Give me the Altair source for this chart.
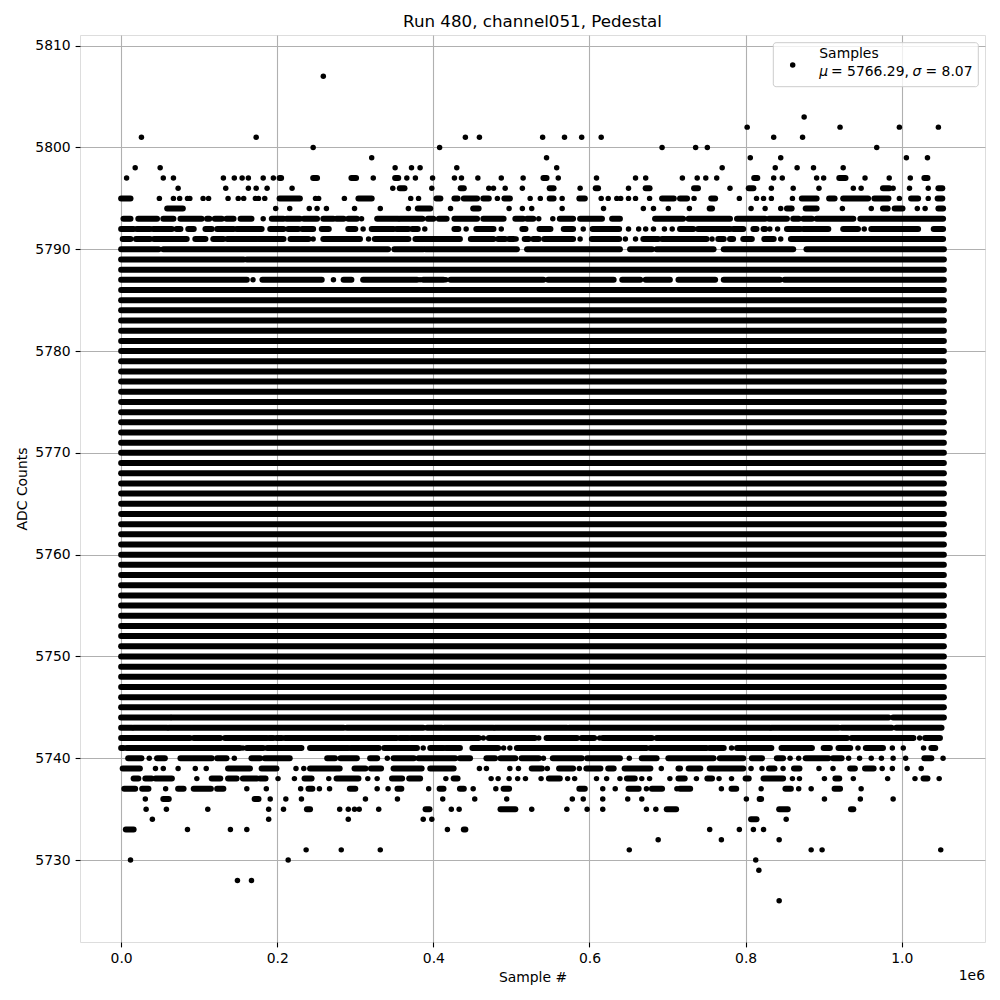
import altair as alt
import pandas as pd

# ---- data (sample index in units of 1e6, ADC count levels) ----
X_MAX = 1.054
solid_levels = list(range(5745, 5787)) + [5788]

r5807 = [0.259]
r5803 = [0.875]
r5802 = [0.802, 0.921, 0.997, 1.047]
r5801 = [0.026, 0.173, 0.441, 0.459, 0.540, 0.568, 0.590, 0.615, 0.836, 0.873]
r5800 = [0.246, 0.408, 0.693, 0.736, 0.751, 0.968]
r5799 = [0.321, 0.545, 0.806, 0.845, 1.006, 1.033]
r5798 = [0.018, 0.050, 0.351, 0.372, 0.383, 0.430, 0.558, 0.770, 0.838, 0.866, 0.887, 0.925]
r5797 = [0.007, 0.054, 0.067, 0.131, 0.145, 0.155, 0.163, 0.182, 0.195, [0.203, 0.205],
         [0.246, 0.251], [0.295, 0.301], 0.323, [0.351, 0.355], 0.366, 0.377, 0.399, 0.427,
         0.436, 0.457, 0.487, 0.515, [0.541, 0.545], 0.560, 0.609, 0.659, 0.672, 0.719, 0.738,
         0.749, 0.763, [0.811, 0.815], 0.836, 0.847, 0.891, 0.900, [0.920, 0.928], 0.953,
         0.984, 1.011, [1.029, 1.033]]
r5796 = [0.073, 0.134, 0.163, 0.173, 0.187, 0.219, 0.348, [0.357, 0.363], 0.398, [0.435, 0.439],
         0.471, 0.477, 0.492, 0.514, [0.549, 0.554], 0.588, [0.608, 0.611], 0.650, [0.672, 0.677],
         [0.734, 0.739], 0.780, [0.804, 0.810], 0.833, 0.861, 0.894, 0.938, 0.948, [0.976, 0.984],
         0.989, 1.010, 1.034, [1.047, 1.052]]
r5795 = [[0.000, 0.012], 0.049, 0.067, 0.075, 0.085, 0.088, 0.105, 0.112, 0.137, 0.150, 0.157,
         0.172, 0.176, 0.184, [0.203, 0.229], 0.249, 0.253, 0.286, [0.304, 0.321], 0.371, 0.381,
         [0.404, 0.409], [0.427, 0.431], [0.439, 0.456], [0.464, 0.471], 0.482, [0.491, 0.498],
         0.524, 0.537, [0.549, 0.554], 0.565, [0.587, 0.594], 0.615, 0.624, 0.635, 0.640, 0.650,
         0.659, 0.677, [0.693, 0.708], [0.716, 0.725], 0.734, [0.756, 0.761], 0.792, 0.814, 0.823,
         0.833, 0.860, [0.872, 0.891], [0.907, 0.914], [0.925, 0.957], [0.965, 0.983], 0.997,
         [1.012, 1.021], 1.034, [1.046, 1.052]]
r5794 = [[0.059, 0.079], 0.198, 0.216, 0.241, 0.251, 0.263, 0.299, 0.332, 0.368, [0.380, 0.396],
         0.422, [0.451, 0.458], 0.497, 0.514, 0.526, 0.565, 0.618, 0.669, 0.682, 0.701, 0.728,
         [0.754, 0.757], 0.807, 0.825, 0.845, [0.853, 0.859], [0.877, 0.891], 0.924, 0.961,
         [0.976, 0.982], [0.991, 1.001], 1.020, 1.030, [1.047, 1.053]]
r5793 = [[0.003, 0.012], [0.022, 0.046], [0.054, 0.067], [0.076, 0.103], [0.110, 0.113],
         [0.120, 0.129], [0.135, 0.144], [0.153, 0.167], 0.182, [0.193, 0.208], [0.212, 0.229],
         [0.234, 0.251], [0.259, 0.272], [0.276, 0.285], [0.291, 0.302], 0.308, [0.328, 0.355],
         [0.357, 0.386], [0.393, 0.400], [0.407, 0.417], [0.427, 0.456], [0.464, 0.490],
         [0.505, 0.515], [0.520, 0.528], 0.535, 0.553, [0.562, 0.579], [0.588, 0.616],
         [0.629, 0.639], [0.684, 0.720], [0.727, 0.780], [0.789, 0.825], [0.830, 0.853],
         [0.861, 0.868], [0.874, 0.885], [0.891, 0.938], [0.947, 1.053]]
r5792 = [[0.000, 0.016], [0.020, 0.037], [0.041, 0.065], [0.071, 0.076], [0.086, 0.093],
         [0.108, 0.116], [0.123, 0.144], [0.148, 0.180], [0.191, 0.208], [0.214, 0.227],
         [0.232, 0.246], [0.257, 0.266], [0.291, 0.300], 0.310, [0.321, 0.349], [0.353, 0.368],
         [0.373, 0.380], 0.389, [0.427, 0.432], 0.442, [0.455, 0.477], 0.487, [0.514, 0.518],
         [0.536, 0.550], [0.567, 0.579], 0.592, [0.604, 0.638], 0.650, 0.663, 0.672, 0.682, 0.696,
         0.706, [0.716, 0.733], [0.739, 0.780], [0.784, 0.797], [0.810, 0.814], [0.823, 0.825],
         0.831, 0.841, [0.853, 0.870], [0.874, 0.906], [0.925, 0.944], 0.952, [0.961, 1.021],
         [1.041, 1.053]]
r5791 = [[0.002, 0.012], [0.019, 0.037], [0.042, 0.084], [0.095, 0.108], [0.118, 0.131],
         [0.136, 0.174], [0.176, 0.208], [0.217, 0.240], 0.246, [0.259, 0.306], 0.317,
         [0.325, 0.368], [0.377, 0.434], [0.448, 0.477], [0.483, 0.492], [0.497, 0.503], 0.506,
         [0.517, 0.522], [0.528, 0.535], [0.542, 0.579], 0.588, [0.603, 0.638], 0.646, 0.659,
         [0.669, 0.688], [0.693, 0.750], 0.757, [0.765, 0.772], [0.780, 0.784], [0.797, 0.808],
         [0.824, 0.836], 0.845, [0.858, 1.053]]
r5790 = [[0.000, 0.048], [0.054, 0.342], [0.350, 0.387], [0.390, 0.507], [0.520, 0.639],
         [0.652, 0.680], [0.686, 0.759], [0.772, 0.861], [0.878, 1.054]]
r5789 = [[0.000, 0.157], [0.161, 1.054]]
r5787 = [[0.000, 0.161], 0.169, [0.181, 0.257], 0.272, [0.285, 0.295], [0.310, 0.379], 0.383,
         [0.387, 0.413], 0.416, [0.422, 0.541], [0.547, 0.631], [0.642, 0.665], [0.672, 0.703],
         [0.714, 0.761], [0.772, 0.844], [0.850, 1.054]]
r5744 = [[0.000, 0.063], [0.065, 0.983], [0.989, 1.054]]
r5743 = [[0.000, 0.014], [0.016, 0.059], [0.061, 0.285], [0.289, 0.387], [0.392, 0.411],
         [0.414, 0.477], [0.479, 0.571], [0.574, 0.831], [0.833, 0.919], [0.923, 0.987],
         [0.993, 1.051]]
r5742 = [[0.000, 0.088], [0.093, 0.127], [0.133, 0.187], [0.190, 0.195], [0.199, 0.206],
         [0.210, 0.353], [0.357, 0.368], [0.371, 0.458], 0.464, [0.471, 0.530], 0.535,
         [0.545, 0.584], [0.590, 0.606], 0.613, [0.617, 0.680], [0.686, 0.840], [0.842, 0.930],
         [0.936, 1.015], 1.023, [1.030, 1.049]]
r5741 = [[0.000, 0.003], [0.007, 0.152], 0.156, [0.161, 0.182], [0.187, 0.231], [0.242, 0.291],
         [0.294, 0.330], [0.337, 0.379], 0.387, [0.396, 0.413], [0.416, 0.434], [0.450, 0.483],
         0.490, 0.498, [0.507, 0.673], [0.678, 0.750], [0.754, 0.772], 0.782, [0.789, 0.833],
         [0.846, 0.885], [0.900, 0.908], [0.919, 0.934], 0.944, [0.954, 0.976], 0.988, 1.002,
         1.028, [1.038, 1.043]]
r5740 = [[0.009, 0.026], 0.036, [0.046, 0.056], [0.076, 0.116], [0.123, 0.135], 0.145,
         [0.167, 0.178], [0.184, 0.216], [0.264, 0.274], [0.281, 0.302], [0.319, 0.328], 0.341,
         [0.349, 0.375], [0.381, 0.428], [0.434, 0.447], [0.468, 0.479], [0.486, 0.505],
         [0.513, 0.535], 0.541, [0.553, 0.590], [0.597, 0.639], 0.651, [0.667, 0.686],
         [0.701, 0.759], [0.767, 0.797], [0.808, 0.821], [0.840, 0.848], 0.857, 0.868,
         [0.877, 0.906], [0.912, 0.923], 0.932, 0.946, 0.961, 0.974, 0.989, 1.005,
         [1.029, 1.038], 1.053]
r5739 = [[0.002, 0.024], 0.044, 0.054, 0.073, 0.095, 0.109, [0.137, 0.165], [0.180, 0.199],
         0.224, 0.234, [0.242, 0.280], [0.299, 0.313], [0.320, 0.333], [0.349, 0.385],
         [0.396, 0.426], 0.459, 0.468, 0.498, 0.509, [0.526, 0.539], 0.546, [0.561, 0.579],
         0.587, [0.596, 0.614], [0.624, 0.631], [0.645, 0.678], 0.692, [0.714, 0.716],
         [0.727, 0.742], [0.754, 0.797], 0.807, 0.821, [0.830, 0.837], 0.848, [0.862, 0.869],
         0.894, 0.912, [0.934, 0.940], [0.953, 0.964], 0.975, 0.988, 1.007, 1.025]
r5738 = [[0.016, 0.022], [0.031, 0.039], [0.044, 0.065], 0.097, [0.116, 0.127], [0.137, 0.148],
         [0.156, 0.174], [0.178, 0.185], 0.201, 0.222, [0.235, 0.244], 0.266, [0.276, 0.304],
         0.316, 0.328, [0.347, 0.360], [0.369, 0.383], 0.416, [0.426, 0.431], 0.474, 0.483,
         0.497, 0.508, 0.518, 0.538, [0.548, 0.562], 0.572, 0.581, 0.609, 0.622, 0.639,
         [0.648, 0.658], 0.667, 0.677, 0.703, [0.714, 0.722], 0.737, [0.751, 0.757], 0.766,
         0.782, [0.800, 0.804], [0.823, 0.848], 0.860, 0.869, 0.901, [0.915, 0.920], 0.938,
         0.982, 1.017, [1.028, 1.033], 1.048]
r5737 = [[0.004, 0.018], [0.027, 0.035], 0.057, [0.073, 0.080], [0.093, 0.115], [0.123, 0.131],
         0.161, 0.186, 0.230, [0.240, 0.245], 0.254, 0.267, [0.293, 0.300], 0.328, 0.342,
         [0.354, 0.359], 0.394, [0.408, 0.413], [0.434, 0.439], 0.451, 0.480, [0.490, 0.497],
         [0.587, 0.594], 0.617, 0.633, [0.650, 0.663], 0.673, [0.680, 0.693], 0.712,
         [0.716, 0.729], 0.769, [0.782, 0.788], 0.820, [0.851, 0.858], 0.868, 0.884,
         [0.914, 0.921], 0.948]
r5736 = [0.031, [0.054, 0.061], [0.171, 0.176], 0.191, 0.211, 0.231, 0.313, 0.354, 0.412, 0.453,
         0.494, 0.578, 0.592, 0.617, 0.649, 0.667, 0.801, [0.818, 0.820], 0.901, 0.947, 0.989]
r5735 = [0.032, 0.058, 0.111, 0.189, 0.208, [0.238, 0.242], 0.280, 0.291, 0.299, 0.305, 0.330,
         [0.390, 0.395], 0.423, 0.433, [0.486, 0.505], 0.526, 0.571, 0.597, 0.617, 0.673, 0.685,
         [0.699, 0.711], [0.843, 0.854], [0.935, 0.938]]
r5734 = [0.040, 0.189, 0.291, 0.387, 0.398, [0.807, 0.814], 0.852]
r5733 = [[0.006, 0.016], 0.085, 0.140, 0.161, 0.418, [0.439, 0.441], 0.754, 0.792, 0.810, 0.823]
r5732 = [0.688, 0.769, 0.843]
r5731 = [0.237, 0.282, 0.332, 0.651, 0.884, 0.898, 1.050]
r5730 = [0.012, 0.214, 0.813]
r5729 = [0.817]
r5728 = [0.149, 0.167]
r5726 = [0.843]

rows = {
    5807: r5807, 5803: r5803, 5802: r5802, 5801: r5801, 5800: r5800, 5799: r5799,
    5798: r5798, 5797: r5797, 5796: r5796, 5795: r5795, 5794: r5794, 5793: r5793,
    5792: r5792, 5791: r5791, 5790: r5790, 5789: r5789, 5787: r5787, 5744: r5744,
    5743: r5743, 5742: r5742, 5741: r5741, 5740: r5740, 5739: r5739, 5738: r5738,
    5737: r5737, 5736: r5736, 5735: r5735, 5734: r5734, 5733: r5733, 5732: r5732,
    5731: r5731, 5730: r5730, 5729: r5729, 5728: r5728, 5726: r5726,
}

seg_rows, dot_rows = [], []
for lvl, items in rows.items():
    for it in items:
        if isinstance(it, list) and it[1] > it[0]:
            seg_rows.append({"level": lvl, "x0": it[0], "x1": it[1]})
        else:
            v = it[0] if isinstance(it, list) else it
            dot_rows.append({"level": lvl, "x0": v})
for lvl in solid_levels:
    seg_rows.append({"level": lvl, "x0": 0.0, "x1": X_MAX})

seg_df = pd.DataFrame(seg_rows)
dot_df = pd.DataFrame(dot_rows)

FONT = "DejaVu Sans"
FS = 13.9

xs = alt.Scale(domain=[-0.0527, 1.1067], nice=False, zero=False)
ys = alt.Scale(domain=[5721.95, 5811.05], nice=False, zero=False)

xaxis = alt.Axis(
    values=[0.0, 0.2, 0.4, 0.6, 0.8, 1.0], format=".1f", title="Sample #",
    tickSize=4.9, tickColor="black", tickWidth=1.1, domain=False,
    labelFont=FONT, labelFontSize=FS, labelColor="black", labelPadding=15.1,
    labelBaseline="alphabetic", labelFlush=False, labelOverlap=False,
    grid=True, gridColor="#b0b0b0", gridWidth=1.1,
    titleFont=FONT, titleFontSize=FS, titleFontWeight="normal", titleColor="black",
    titleX=452.5, titleY=39.5, titleBaseline="alphabetic", titleAlign="center",
)
yaxis = alt.Axis(
    values=list(range(5730, 5811, 10)), format="d", title="ADC Counts",
    tickSize=4.9, tickColor="black", tickWidth=1.1, domain=False,
    labelFont=FONT, labelFontSize=FS, labelColor="black", labelPadding=4.9,
    labelBaseline="middle", labelFlush=False, labelOverlap=False,
    grid=True, gridColor="#b0b0b0", gridWidth=1.1,
    titleFont=FONT, titleFontSize=FS, titleFontWeight="normal", titleColor="black",
    titleAngle=270, titleX=-54, titleY=453.5, titleBaseline="alphabetic", titleAlign="center",
)

rules = alt.Chart(seg_df).mark_rule(color="black", strokeWidth=6.0, strokeCap="round").encode(
    x=alt.X("x0:Q", scale=xs, axis=xaxis),
    x2="x1:Q",
    y=alt.Y("level:Q", scale=ys, axis=yaxis),
)
dots = alt.Chart(dot_df).mark_circle(color="black", size=30, opacity=1).encode(
    x=alt.X("x0:Q", scale=xs, axis=xaxis),
    y=alt.Y("level:Q", scale=ys, axis=yaxis),
)

one = pd.DataFrame({"k": [0]})


def txt(s, x, y, size=FS, align="left", italic=False):
    kw = dict(font=FONT, fontSize=size, color="black", align=align, baseline="alphabetic")
    if italic:
        kw["fontStyle"] = "italic"
    return alt.Chart(one).mark_text(**kw).encode(
        x=alt.value(x), y=alt.value(y), text=alt.value(s)
    )


legend_box = alt.Chart(one).mark_rect(
    fill="white", fillOpacity=0.8, stroke="#cccccc", strokeWidth=1, cornerRadius=2.8
).encode(x=alt.value(693.3), x2=alt.value(898.3), y=alt.value(7.7), y2=alt.value(51.7))
legend_dot = alt.Chart(one).mark_circle(color="black", size=30, opacity=1).encode(
    x=alt.value(712.7), y=alt.value(30)
)

layers = [
    rules, dots, legend_box, legend_dot,
    txt("Samples", 739.3, 22.7),
    txt("μ", 739.3, 40.7, italic=True),
    txt("= 5766.29,", 751.0, 40.7),
    txt("σ", 832.5, 40.7, italic=True),
    txt("= 8.07", 845.5, 40.7),
    txt("Run 480, channel051, Pedestal", 452.5, -8.3, size=16.7, align="center"),
    txt("1e6", 905, 944.5, align="right"),
]

chart = alt.layer(*layers).properties(
    width=905, height=907,
    autosize=alt.AutoSizeParams(type="none"),
    padding={"left": 72, "top": 27, "right": 7, "bottom": 50},
).configure_view(stroke="black", strokeWidth=1.1).configure(background="white")

chart.save("out.html", embed_options={"renderer": "svg", "actions": False})
